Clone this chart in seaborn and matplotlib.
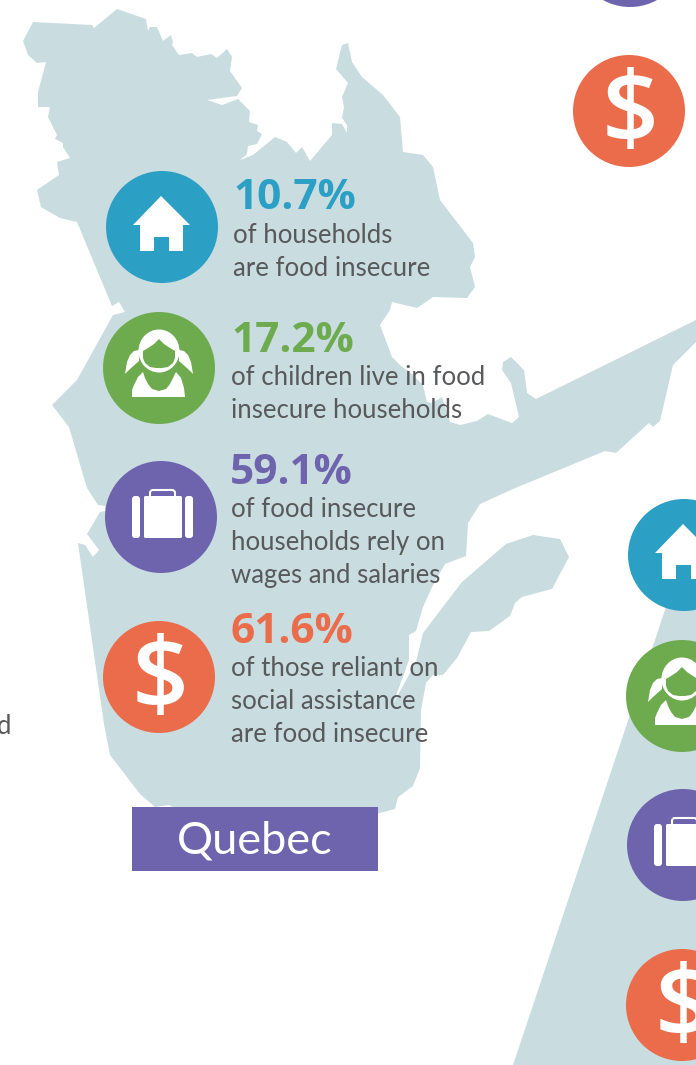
import matplotlib
matplotlib.use('Agg')
import matplotlib.pyplot as plt
from matplotlib.patches import Ellipse, FancyBboxPatch, Polygon, Rectangle
import pandas as pd
import seaborn as sns

sns.set_theme(style='white')
plt.rcParams['font.family'] = ['Lato', 'DejaVu Sans']

MAP = '#c9dce0'
BLUE = '#2c9fc5'
GREEN = '#6eab4f'
PURPLE = '#6e64ae'
ORANGE = '#eb6c4a'
GREY = '#58595b'

# province outlines, traced in picture pixels
quebec_x = [33, 92, 94, 117, 146, 148, 150, 157, 163, 171, 173, 172, 179, 192, 197, 211, 217, 227, 232, 230, 242, 237,
            207, 222, 238, 250, 249, 258, 257, 262, 257, 248, 247, 240, 253, 275, 287, 296, 302, 310, 332, 332, 342,
            347, 347, 342, 344, 342, 348, 336, 342, 348, 352, 362, 383, 400, 403, 423, 433, 440, 473, 475, 470, 475,
            467, 433, 417, 392, 390, 380, 392, 400, 413, 423, 427, 432, 442, 450, 460, 477, 488, 512, 519, 511, 502,
            503, 511, 524, 527, 536, 696, 696, 673, 660, 653, 649, 616, 605, 513, 480, 468, 466, 445, 433, 423, 416,
            409, 409, 393, 416, 423, 462, 506, 533, 560, 569, 552, 522, 515, 510, 489, 471, 457, 443, 433, 426, 421,
            420, 413, 398, 395, 380, 300, 175, 169, 155, 140, 110, 104, 78, 85, 93, 99, 87, 100, 105, 105, 98, 87, 69,
            52, 77, 113, 125, 119, 112, 77, 60, 41, 37, 59, 57, 70, 63, 63, 55, 57, 48, 50, 38, 38, 46, 37, 28, 23]
quebec_y = [22, 25, 28, 9, 19, 31, 27, 27, 41, 35, 42, 45, 55, 53, 57, 54, 58, 49, 57, 71, 88, 96,
            100, 105, 99, 111, 122, 125, 131, 134, 144, 146, 154, 160, 155, 137, 142, 153, 147, 161, 135, 123, 124,
            133, 125, 118, 107, 97, 83, 69, 45, 43, 62, 77, 95, 117, 152, 155, 167, 200, 243, 257, 267, 287,
            298, 297, 308, 302, 310, 325, 357, 365, 375, 385, 402, 403, 397, 422, 425, 421, 414, 423, 417, 383, 370,
            362, 357, 370, 393, 399, 320, 342, 365, 421, 427, 423, 453, 451, 489, 504, 523, 556, 564, 585, 607, 631,
            635, 660, 704, 662, 633, 582, 544, 535, 539, 557, 589, 597, 603, 616, 631, 632, 658, 675, 675, 683, 710,
            768, 786, 797, 809, 813, 830, 808, 805, 807, 794, 755, 724, 543, 545, 557, 550, 534, 512, 511, 506, 505, 488, 427,
            405, 380, 315, 312, 302, 306, 222, 218, 207, 190, 175, 162, 158, 147, 143, 139, 135, 117, 107, 107, 92, 62, 63, 55, 41]
ontario_x = [680, 513, 696, 696]
ontario_y = [565, 1065, 1065, 565]

# icon circles
icon_kind = ['house', 'girl', 'case', 'dollar', 'case', 'dollar', 'house', 'girl', 'case', 'dollar']
icon_x = [162, 159, 161, 159, 630, 629, 684, 682, 683, 682]
icon_y = [227, 368, 517, 677, -49, 111, 555, 696, 845, 1005]
kind_colors = {'house': BLUE, 'girl': GREEN, 'case': PURPLE, 'dollar': ORANGE}

pct_labels = ['10.7%', '17.2%', '59.1%', '61.6%']
pct_colors = [BLUE, GREEN, PURPLE, ORANGE]
pct_x = [232, 230, 229, 229]
pct_y = [209, 352, 484, 643]

body_labels = ['of households', 'are food insecure', 'of children live in food', 'insecure households',
               'of food insecure', 'households rely on', 'wages and salaries', 'of those reliant on',
               'social assistance', 'are food insecure']
body_x = [233, 233, 231, 231, 231, 231, 231, 231, 231, 231]
body_y = [243, 276, 385, 418, 517, 550, 583, 676, 709, 742]

house_x = [-1, 28, 21, 21, 7, 7, -8, -8, -22, -22, -29]
house_y = [-31, -2, -2, 24, 24, 10, 10, 24, 24, -2, -2]
face_x = [0, -5, -11, -16, -16, -14, -9, -3, 3, 9, 14, 16, 16, 11, 5]
face_y = [-29, -24, -20, -17, -10, -5, -1, 0, 0, -1, -5, -10, -17, -20, -24]
body_xs = [-27, 26, 25, 22, 17, 14, 11, 7, 0, -7, -11, -14, -16, -21, -25, -27]
body_ys = [29, 29, 20, 10, 4, 10, 16, 21, 23, 21, 16, 10, 4, 9, 17, 22]
pig_x = [-20, -25, -29, -32, -34, -29, -20]
pig_y = [-18, -17, -13, -6, 6, 1, -7]

fig, ax = plt.subplots(figsize=(6.96, 10.65), dpi=100)
fig.subplots_adjust(0, 0, 1, 1)

ax.fill(quebec_x, quebec_y, color=MAP, lw=0, zorder=1)
ax.fill(ontario_x, ontario_y, color=MAP, lw=0, zorder=1)

df = pd.DataFrame({'x': icon_x, 'y': icon_y, 'kind': icon_kind})
sns.scatterplot(data=df, x='x', y='y', hue='kind', palette=kind_colors, s=(112 * 0.72) ** 2,
                linewidth=0, legend=False, clip_on=True, zorder=2, ax=ax)
ax.set_xlim(0, 696)
ax.set_ylim(1065, 0)
ax.axis('off')


def shape(cx, cy, xs, ys, color='white', z=3):
    ax.add_patch(Polygon([(cx + a, cy + b) for a, b in zip(xs, ys)], closed=True, fc=color, lw=0, zorder=z))


def rounded(x0, y0, x1, y1, r=3, **kw):
    ax.add_patch(FancyBboxPatch((x0 + r, y0 + r), x1 - x0 - 2 * r, y1 - y0 - 2 * r,
                                boxstyle=f'round,pad={r},rounding_size={r}', **kw))


for kind, cx, cy in zip(icon_kind, icon_x, icon_y):
    if kind == 'house':
        shape(cx, cy, house_x, house_y)
    elif kind == 'girl':
        shape(cx, cy, pig_x, pig_y)
        shape(cx, cy, [-a for a in pig_x], pig_y)
        shape(cx, cy, body_xs, body_ys)
        ax.add_patch(Ellipse((cx, cy - 17), 41, 43, fc='white', lw=0, zorder=3))
        shape(cx, cy, face_x, face_y, GREEN, 4)
    elif kind == 'case':
        rounded(cx - 29, cy - 21, cx - 21, cy + 21, fc='white', lw=0, zorder=3)
        rounded(cx - 17, cy - 21, cx + 21, cy + 21, r=1.5, fc='white', lw=0, zorder=3)
        rounded(cx + 24, cy - 21, cx + 32, cy + 21, fc='white', lw=0, zorder=3)
        rounded(cx - 11, cy - 27, cx + 14, cy - 17, fc='none', ec='white', lw=1.5, zorder=3)
    else:
        ax.text(cx + 1, cy + 32, '$', color='white', family=['Open Sans', 'DejaVu Sans'], fontsize=72,
                fontweight='semibold', ha='center', va='baseline', zorder=3)

for t, c, x, y in zip(pct_labels, pct_colors, pct_x, pct_y):
    ax.text(x + 1, y, t, color=c, family=['Open Sans', 'DejaVu Sans'], fontsize=30.5, fontweight='bold',
            va='baseline', zorder=5)
for t, x, y in zip(body_labels, body_x, body_y):
    ax.text(x, y, t, color=GREY, fontsize=18.5, va='baseline', zorder=5)
ax.text(11, 734, 'd', color=GREY, fontsize=18.5, ha='right', va='baseline', zorder=5)

ax.add_patch(Rectangle((132, 807), 246, 64, fc=PURPLE, lw=0, zorder=6))
ax.text(255, 854, 'Quebec', color='white', fontsize=32.5, ha='center', va='baseline', zorder=7)

fig.savefig('out.png', dpi=100)
